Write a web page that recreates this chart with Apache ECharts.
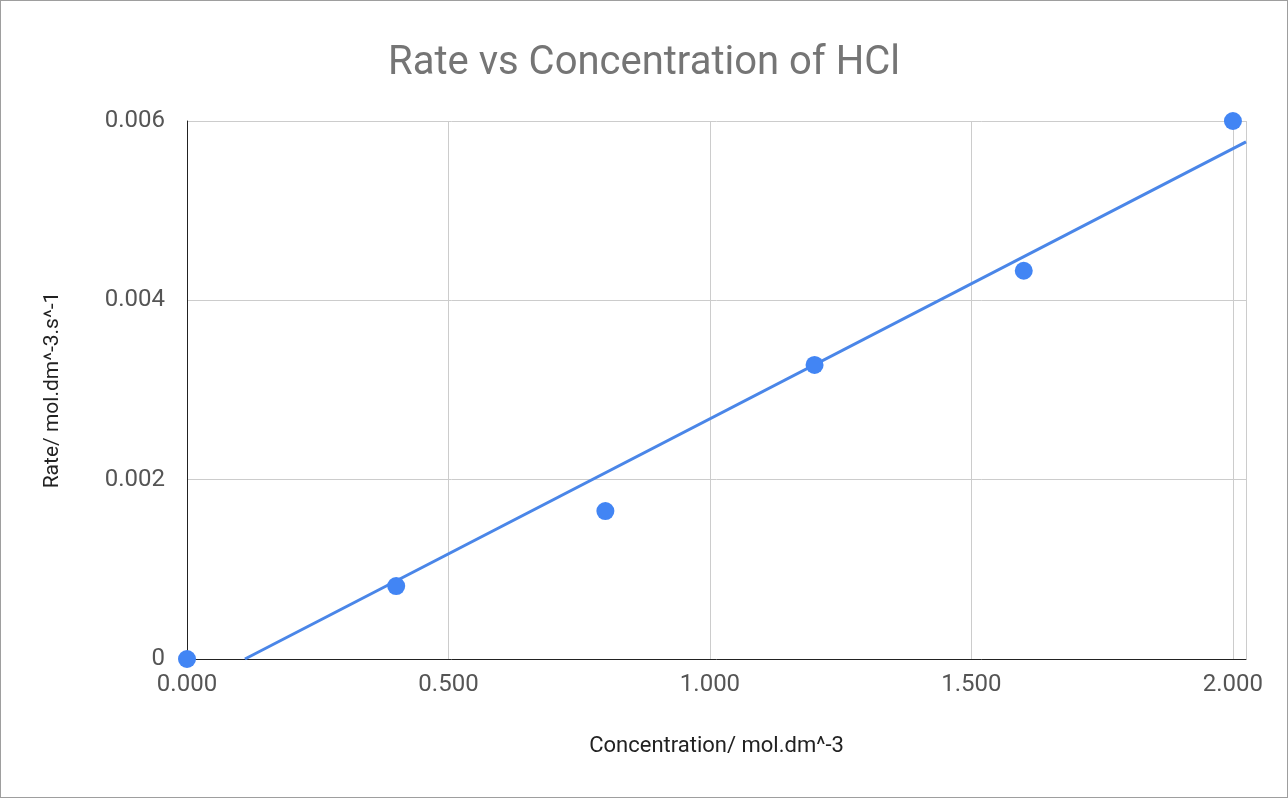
<!DOCTYPE html>
<html><head><meta charset="utf-8">
<script src="https://cdn.jsdelivr.net/npm/echarts@6/dist/echarts.min.js"></script>
<style>html,body{margin:0;padding:0;background:#fff}#chart{width:1286px;height:796px;border:1px solid #9e9e9e}</style>
</head><body><div id="chart"></div>
<script>
var concentration = [0, 0.4, 0.8, 1.2, 1.6, 2.0];
var rate = [0, 0.000814, 0.00165, 0.00328, 0.00433, 0.006];
var xMax = 2.025;

// linear trendline (least squares)
var n = concentration.length, mx = 0, my = 0;
for (var i = 0; i < n; i++) { mx += concentration[i] / n; my += rate[i] / n; }
var sxy = 0, sxx = 0;
for (var i = 0; i < n; i++) {
  sxy += (concentration[i] - mx) * (rate[i] - my);
  sxx += (concentration[i] - mx) * (concentration[i] - mx);
}
var slope = sxy / sxx, icpt = my - slope * mx;
var x0 = -icpt / slope;
var trend = [[x0, 0], [xMax, slope * xMax + icpt]];

var chart = echarts.init(document.getElementById('chart'));
chart.setOption({
  animation: false,
  textStyle: { fontFamily: 'Roboto' },
  title: { text: 'Rate vs Concentration of HCl', left: 'center', top: 38,
    textStyle: { fontSize: 40, fontWeight: 'normal', color: '#757575' } },
  grid: { left: 186, right: 41, top: 120, bottom: 138 },
  xAxis: {
    type: 'value', min: 0, max: xMax, interval: 0.5,
    name: 'Concentration/ mol.dm^-3', nameLocation: 'middle', nameGap: 76,
    nameTextStyle: { fontSize: 22, color: '#222' },
    axisLine: { lineStyle: { color: '#222' } }, axisTick: { show: false },
    axisLabel: { fontSize: 24, color: '#555', margin: 14, showMaxLabel: false,
      formatter: function (v) { return v.toFixed(3); } },
    splitLine: { lineStyle: { color: '#ccc' } }
  },
  yAxis: {
    type: 'value', min: 0, max: 0.006, interval: 0.002,
    name: 'Rate/ mol.dm^-3.s^-1', nameLocation: 'middle', nameGap: 124,
    nameTextStyle: { fontSize: 21, color: '#222' },
    axisLine: { show: true, lineStyle: { color: '#222' } }, axisTick: { show: false },
    axisLabel: { fontSize: 24, color: '#555', margin: 22,
      formatter: function (v) { return v === 0 ? '0' : v.toFixed(3); } },
    splitLine: { lineStyle: { color: '#ccc' } }
  },
  series: [
    { type: 'line', data: trend, symbol: 'none', z: 1,
      lineStyle: { color: '#4a86e8', width: 3 } },
    { type: 'scatter', symbolSize: 18, z: 2,
      itemStyle: { color: '#4285f4', opacity: 1 },
      data: concentration.map(function (x, i) { return [x, rate[i]]; }) }
  ]
});
</script></body></html>
